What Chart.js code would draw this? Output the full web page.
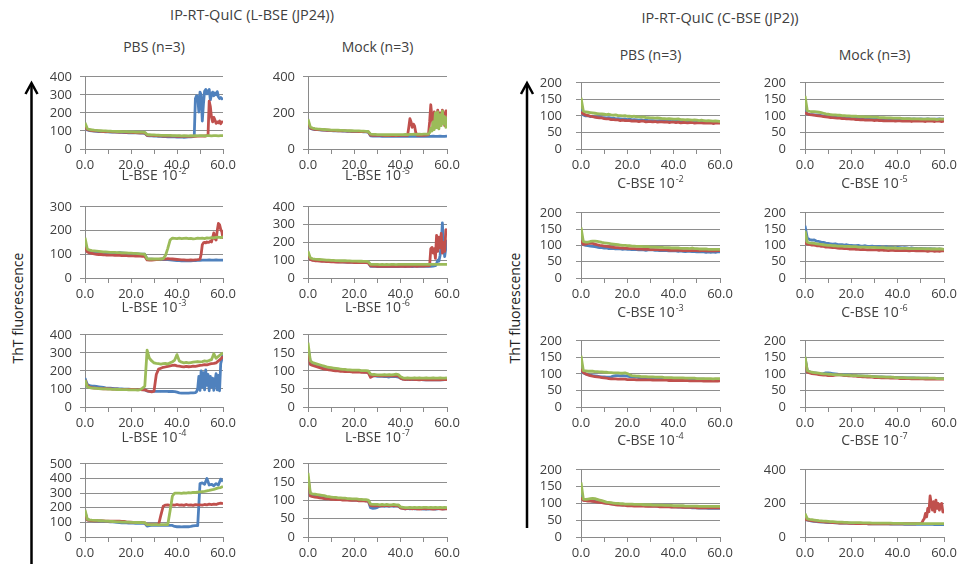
<!DOCTYPE html>
<html>
<head>
<meta charset="utf-8">
<script src="https://cdn.jsdelivr.net/npm/chart.js@4.4.1/dist/chart.umd.min.js"></script>
<style>
  html, body { margin: 0; padding: 0; background: #fff; }
  #page { position: relative; width: 960px; height: 566px; overflow: hidden;
          font-family: "Open Sans", sans-serif; color: #404040; }
  .group-title, .panel-title { position: absolute; font-size: 14px; white-space: nowrap;
          transform: translate(-50%, -50%); line-height: 1; }
  .group-title { font-size: 14.5px; }
  .panel-title .sup { display: inline-block; font-size: 9px; line-height: 1; position: relative; top: -6px; margin-left: 1px; }
  .ylab { position: absolute; font-size: 14px; white-space: nowrap; line-height: 1; color: #222;
          transform: translate(-50%, -50%) rotate(-90deg); }
  canvas { position: absolute; }
  svg { position: absolute; left: 0; top: 0; }
</style>
</head>
<body>
<div id="page">
  <div class="group-title" style="left:252px; top:15px;">IP-RT-QuIC (L-BSE (JP24))</div>
  <div class="group-title" style="left:720px; top:18px;">IP-RT-QuIC (C-BSE (JP2))</div>
  <div class="ylab" style="left:18px; top:308px;">ThT fluorescence</div>
  <div class="ylab" style="left:515px; top:308px;">ThT fluorescence</div>
  <svg width="960" height="566">
    <g stroke="#000" stroke-width="2.5" fill="none" stroke-linecap="butt">
      <line x1="31.5" y1="84" x2="31.5" y2="564"/>
      <polyline points="25.5,94 31.5,83 37.5,94"/>
      <line x1="527" y1="84" x2="527" y2="528"/>
      <polyline points="521,94 527,83 533,94"/>
    </g>
  </svg>
</div>
<script>
// Sampling times (hours) of the hourly readings
const sampleHours = [0,1,2,3,4,5,6,7,8,9,10,11,12,13,14,15,16,17,18,19,20,
  21,22,23,24,25,26,27,28,29,30,31,32,33,34,35,36,37,38,39,40,
  41,42,43,44,45,46,47,48,49,50,51,52,53,54,55,56,57,58,59,60];
// Dense readings (every half hour) recorded from a given time onwards
const burstStep = 0.5;

// ---------- L-BSE (JP24) ----------
const lPbsBlue = [118,106,102,100,99,98,97,97,96,95,95,
  94,94,93,93,92,92,91,91,90,90,
  90,89,89,88,88,87,74,73,73,72,
  71,70,70,69,68,67,67,68,67,66,
  66,67,65,66,67,67,69];
const lPbsBlueBurst = [72,280,295,290,205,315,300,155,250,320,330,305,320,330,272,300,315,295,310,300,318,290,280,285,278,282];
const lPbsRed = [122,108,104,102,101,100,99,98,97,97,96,
  96,95,95,94,94,93,93,92,92,92,
  91,91,90,90,89,89,76,75,75,74,
  74,73,73,72,72,72,71,71,71,70,
  71,70,70,71,70,70,71,70,71,71,
  71,72];
const lPbsRedBurst = [72,74,78,265,235,175,150,175,160,142,150,145,155,140,150,148];
const lPbsGreen = [145,113,108,106,104,103,102,101,100,100,99,
  99,98,98,97,97,96,96,96,95,95,
  95,94,94,93,93,92,80,79,78,78,
  77,77,76,76,75,75,75,74,74,74,
  74,73,74,73,73,74,73,74,73,74,
  74,73,74,74,73,74,74,73,74,74];

const lMockBlue = [140,114,110,108,107,106,105,104,103,103,102,
  101,101,100,100,99,99,98,98,97,97,
  97,96,96,95,95,94,73,72,72,71,
  71,70,71,70,70,71,70,70,71,70,
  70,71,70,70,71,70,70,71,70,70,
  71,70,70,71,70,70,71,70,70,71];
const lMockRed = [150,116,111,109,108,107,106,105,104,104,103,
  102,102,101,101,100,100,99,99,98,98,
  98,97,97,96,96,95,77,76,76,75,
  75,75,74,75,74,75,74,75,74,75,
  75,76,76];
const lMockRedBurst = [120,168,150,120,138,128,92,77,76,76,77,76,77,76,77,77,78,80,
  150,245,175,130,205,180,120,215,150,200,140,215,190,130,210,215];
const lMockGreen = [165,122,116,113,111,110,109,108,107,106,105,
  105,104,104,103,103,102,102,101,101,100,
  100,100,99,99,98,97,82,81,81,80,
  80,80,79,80,79,80,80,79,80,80,
  80,81,80,81,81,82,81,82,81,82,
  82,83];
const lMockGreenBurst = [90,115,100,150,108,200,118,205,112,190,130,210,140,180,120,178];

const l2Blue = [132,116,113,111,110,109,108,107,107,106,106,
  105,105,104,105,107,106,105,104,104,103,
  103,102,102,101,101,100,80,79,79,78,
  78,78,77,78,78,77,76,75,74,73,
  73,72,73,72,73,72,73,73,74,74,
  75,75,75,76,75,75,76,75,75,75];
const l2Red = [130,110,106,104,102,100,99,99,98,97,97,
  96,96,95,95,95,94,94,94,93,93,
  93,92,92,92,91,91,76,75,75,76,
  77,78,80,81,80,82,81,80,79,78,
  77,76,76,75,75,76,75,76,77,79];
const l2RedBurst = [100,140,148,150,148,152,150,151,155,152,170,190,165,160,200,230,225,205,195,165];
const l2Green = [170,122,117,115,114,113,112,111,110,110,109,
  108,108,108,107,107,106,106,106,105,105,
  104,104,103,102,101,100,81,80,80,80,
  80,81,80,82,95,125,160,168,167,166,
  168,166,167,168,166,167,165,166,168,167,
  168,166,169,168,170,169,171,172,170,174];

const l5Blue = [125,106,102,100,99,98,97,96,95,94,93,
  92,92,91,91,91,90,90,90,89,89,
  89,89,88,88,88,87,66,65,65,64,
  64,65,64,64,65,64,64,65,64,65,
  65,64,65,65,64,65,65,66,65,65,
  66,65,66,67,69];
const l5BlueBurst = [80,100,95,125,180,309,190,120,170,215];
const l5Red = [135,104,99,97,96,95,94,93,92,92,91,
  91,90,90,89,89,89,88,88,88,87,
  87,87,86,86,86,85,68,67,67,66,
  67,66,67,66,67,66,67,66,67,66,
  67,66,67,66,67,67,66,67,67,67,
  68,68];
const l5RedBurst = [70,165,172,140,165,110,240,150,230,170,250,140,200,150,270,275];
const l5Green = [150,113,108,106,105,104,103,102,101,100,99,
  99,98,98,97,97,97,96,96,95,95,
  95,94,94,93,93,92,77,76,76,76,
  75,76,75,76,75,76,76,75,76,76,
  76,76,77,76,76,77,76,77,77,77,
  76,77,76,77,77,76,76,77,76,76];

const l3Blue = [160,125,118,116,115,114,112,110,108,106,105,
  104,103,102,101,100,100,99,99,99,98,
  98,98,97,97,96,95,88,87,87,87,
  87,87,86,87,87,86,86,86,85,82,
  78,77,77,77,77,78,78,80];
const l3BlueBurst = [85,102,170,92,200,110,190,95,205,120,180,90,170,110,160,92,140,185,95,175,90,240,265,290];
const l3Red = [150,118,110,107,105,104,103,102,101,101,100,
  100,99,99,99,98,98,98,97,97,97,
  97,96,96,96,95,95,90,86,84,88,
  180,210,215,220,222,225,228,230,232,228,
  226,224,222,225,223,224,226,225,228,230,
  232,235,233,237,240,242,245,255,265,280];
const l3Green = [150,112,107,105,104,103,102,101,100,100,99,
  99,98,98,97,97,96,96,96,95,95,
  95,95,94,96,105,115,315,270,255,245,
  242,240,238,240,242,238,245,250,260,290,
  255,248,245,247,244,246,248,250,252,250,
  252,255,253,258,262,295,270,280,290,300];

const l6Blue = [165,125,120,118,116,114,112,110,108,107,106,
  105,104,103,102,101,100,100,99,99,99,
  98,98,98,97,97,96,87,86,86,85,
  85,85,84,84,83,85,84,84,83,80,
  77,77,76,77,76,76,77,76,76,75,
  76,75,76,75,76,75,76,75,76,76];
const l6Red = [160,118,115,113,111,109,107,105,104,103,102,
  101,100,100,99,99,98,98,98,97,97,
  97,97,96,96,96,95,82,86,87,87,
  86,87,86,86,87,86,86,87,86,80,
  77,76,77,76,77,76,76,75,76,76,
  75,76,75,76,75,76,75,76,76,76];
const l6Green = [178,128,123,121,119,117,115,113,111,110,109,
  108,107,106,105,104,104,103,103,102,102,
  102,102,101,101,101,100,91,90,90,89,
  89,89,90,89,90,89,90,91,90,84,
  81,80,81,80,80,81,80,81,80,80,
  81,80,80,81,80,80,81,80,80,81];

const l4Blue = [170,118,114,112,111,110,109,108,107,106,105,
  104,103,102,100,98,97,96,96,95,95,
  95,94,94,94,93,93,75,78,80,80,
  80,81,80,80,81,80,80,79,72,70,
  70,69,70,70,70,72,76,78,78,365,
  370,360,400,355,360,350,365,355,395,380];
const l4Red = [160,116,113,112,111,111,110,110,110,109,109,
  109,108,108,108,108,107,106,103,102,101,
  100,100,99,99,98,97,85,84,84,84,
  84,84,150,210,218,220,215,220,218,222,
  218,220,216,222,218,220,216,221,219,220,
  218,222,220,224,221,225,222,228,232,228];
const l4Green = [185,122,117,115,114,113,112,111,110,109,108,
  107,106,105,104,103,102,102,101,101,100,
  100,99,99,99,98,98,84,84,83,84,
  84,83,84,84,84,85,180,280,300,300,
  300,298,302,300,303,301,305,304,306,308,
  310,312,315,318,322,325,330,335,338,345];

const l7Blue = [155,115,114,113,112,111,110,109,108,107,106,
  105,105,104,104,103,103,102,102,101,101,
  101,100,100,100,99,99,80,78,79,81,
  84,85,84,85,84,85,84,85,84,80,
  78,77,78,77,78,77,77,78,77,76,
  77,76,77,77,76,77,78,77,77,78];
const l7Red = [165,112,110,109,108,107,106,105,104,104,103,
  103,102,102,102,101,101,101,100,100,100,
  100,99,99,99,98,98,86,85,86,85,
  86,85,86,86,85,86,86,85,86,79,
  78,77,78,78,77,78,77,76,77,78,
  77,78,77,76,77,78,77,76,77,77];
const l7Green = [175,120,118,117,116,115,114,113,111,110,109,
  108,108,107,107,106,106,105,105,104,104,
  104,103,103,102,102,101,90,89,89,89,
  88,89,88,89,88,88,89,88,88,82,
  81,80,80,81,80,81,80,81,80,81,
  81,80,81,80,81,80,81,80,81,80];

// ---------- C-BSE (JP2) ----------
const cPbsBlue = [120,103,100,101,98,99,97,96,97,95,95,
  94,95,93,93,91,92,91,90,91,89,
  90,88,89,88,87,88,86,87,86,86,
  86,85,85,86,84,85,84,85,83,84,
  84,83,84,82,83,82,83,81,82,82,
  81,82,80,81,80,81,79,80,80,80];
const cPbsRed = [112,106,103,101,99,98,96,95,94,94,92,
  91,91,89,89,88,88,86,87,86,86,
  86,84,85,84,83,84,84,82,83,83,
  82,83,81,82,82,81,82,80,81,81,
  80,81,79,80,80,79,80,80,78,79,
  79,79,78,79,78,79,77,78,78,78];
const cPbsGreen = [155,115,112,111,110,109,108,107,106,106,105,
  104,105,103,102,103,101,101,100,101,99,
  99,98,99,97,97,96,97,95,95,94,
  94,93,94,93,92,92,91,92,91,90,
  90,91,89,89,88,89,88,87,88,87,
  86,87,86,85,86,85,84,85,84,83];

const cMockBlue = [115,106,104,104,103,103,102,101,100,99,98,
  98,97,97,96,96,96,95,95,95,94,
  94,94,93,93,93,93,93,92,92,92,
  92,92,92,91,92,91,91,92,91,91,
  91,91,90,91,91,90,91,90,90,91,
  90,90,91,90,90,90,90,91,90,90];
const cMockRed = [110,106,104,103,102,101,100,99,98,97,96,
  95,95,94,93,93,92,92,91,91,90,
  90,89,89,88,89,87,88,87,87,86,
  87,86,86,85,86,85,85,86,84,85,
  85,84,85,84,85,83,85,84,84,85,
  84,83,85,84,84,83,85,84,83,84];
const cMockGreen = [160,116,114,113,113,112,111,110,108,106,105,
  104,103,103,102,102,101,101,100,100,99,
  99,99,98,98,98,97,97,97,96,96,
  96,95,95,95,94,94,94,93,93,93,
  93,92,92,92,92,91,91,91,91,90,
  90,90,91,90,90,90,89,90,90,90];

const c2Blue = [112,102,100,99,98,97,96,95,93,93,92,
  92,90,91,90,89,90,89,88,89,88,
  88,87,88,87,86,87,86,85,86,86,
  86,85,85,84,85,84,84,83,84,83,
  83,82,83,82,81,82,82,81,81,80,
  81,80,80,79,80,79,80,79,80,80];
const c2Red = [115,103,104,106,107,106,104,102,100,99,98,
  97,96,95,94,93,93,92,92,91,91,
  90,90,90,89,89,89,88,88,88,87,
  87,87,87,86,86,86,86,85,85,85,
  85,85,85,84,84,84,84,84,84,84,
  83,84,84,83,84,83,84,83,84,84];
const c2Green = [155,112,110,110,112,113,113,112,111,109,108,
  107,106,105,104,103,102,101,100,100,99,
  99,98,98,97,97,97,96,96,96,95,
  95,95,94,94,94,93,93,93,92,92,
  92,92,91,91,91,91,90,92,90,90,
  89,89,89,89,88,88,88,88,88,88];

const c5Blue = [160,122,118,116,117,113,112,110,109,107,106,
  105,104,105,103,102,102,101,102,100,100,
  99,99,100,98,98,99,97,97,98,96,
  96,97,95,95,96,94,95,94,93,94,
  93,92,93,92,91,92,91,91,90,91,
  90,90,89,90,89,89,88,89,88,88];
const c5Red = [108,104,103,101,101,99,99,97,97,95,95,
  94,93,93,92,91,91,90,90,89,89,
  89,88,88,87,88,87,86,87,86,86,
  86,85,86,85,85,84,85,85,84,85,
  84,84,85,84,83,84,84,83,83,84,
  83,83,82,83,83,82,83,82,83,83];
const c5Green = [145,110,108,107,106,105,104,103,102,101,100,
  100,99,99,98,98,98,97,97,97,96,
  96,96,95,95,95,95,94,94,94,94,
  93,93,93,93,92,92,92,92,92,91,
  91,91,91,91,90,90,90,90,90,90,
  90,89,90,89,89,89,89,89,89,88];

const c3Blue = [108,103,100,98,96,95,94,93,92,91,91,
  90,90,91,93,95,95,94,95,94,93,
  92,91,90,90,89,89,88,88,88,87,
  87,87,87,86,86,86,86,86,85,85,
  85,85,85,85,85,84,84,84,84,84,
  84,84,84,83,83,83,83,83,83,83];
const c3Red = [115,104,100,97,95,93,92,91,90,89,88,
  87,86,85,85,85,84,84,84,84,83,
  83,83,83,82,82,82,82,82,82,82,
  81,81,81,81,81,81,81,80,80,80,
  80,80,80,80,80,80,79,79,79,79,
  79,79,78,79,78,78,79,78,78,79];
const c3Green = [155,110,109,108,108,108,107,107,106,106,105,
  105,104,104,103,103,103,102,102,103,101,
  97,95,94,93,93,92,92,92,91,91,
  91,90,90,90,90,89,89,89,89,88,
  88,88,88,88,87,87,87,87,87,86,
  86,86,86,86,86,86,85,86,86,86];

const c6Blue = [150,108,106,104,103,102,101,100,101,103,103,
  102,101,100,99,98,98,97,97,96,96,
  95,95,94,94,93,93,93,92,92,92,
  91,91,91,90,90,90,90,89,89,89,
  89,89,88,88,88,88,88,87,87,87,
  87,87,87,86,86,86,86,86,86,86];
const c6Red = [145,106,103,101,100,99,98,97,96,96,95,
  95,95,96,97,97,96,95,95,94,94,
  93,93,92,92,91,91,90,90,90,89,
  89,89,88,88,88,88,87,87,87,87,
  86,86,86,86,86,85,85,85,85,85,
  85,84,85,84,84,84,84,84,84,84];
const c6Green = [152,110,107,105,104,103,102,101,100,100,99,
  99,98,98,97,97,97,96,96,96,95,
  95,95,94,94,94,93,93,93,92,92,
  92,91,91,91,90,90,90,90,89,89,
  89,89,89,88,88,88,88,88,88,87,
  87,87,87,87,87,87,86,86,86,86];

const c4Blue = [125,110,109,108,108,107,106,105,104,103,102,
  101,100,99,98,97,97,96,96,96,95,
  95,95,95,95,94,94,94,94,93,93,
  93,93,92,92,92,91,91,91,90,90,
  90,89,89,89,88,88,88,87,87,87,
  86,86,86,86,85,85,85,85,85,85];
const c4Red = [118,109,108,107,107,106,105,104,103,102,101,
  100,99,98,97,96,95,95,94,94,93,
  93,93,92,92,92,92,92,91,91,91,
  91,91,91,90,90,90,90,90,89,89,
  89,89,89,88,88,88,88,88,88,87,
  87,87,87,87,87,87,87,87,87,87];
const c4Green = [162,113,112,113,114,115,114,112,110,108,106,
  104,103,102,101,100,100,99,99,98,98,
  98,98,97,97,97,97,96,96,96,96,
  95,95,95,95,95,94,94,94,94,93,
  93,93,93,93,92,92,92,92,92,92,
  91,91,91,91,91,91,91,91,91,91];

const c7Blue = [112,100,97,95,93,92,90,89,88,87,86,
  85,85,84,84,83,83,82,82,82,81,
  81,81,80,80,80,80,79,79,79,79,
  79,78,78,78,78,78,77,77,77,77,
  77,77,76,76,76,76,76,76,75,75,
  75,75,75,75,75,74,75,74,74,74];
const c7Red = [108,102,99,97,95,94,92,91,90,89,88,
  87,86,85,84,83,83,82,82,81,81,
  81,80,80,80,80,80,79,79,79,79,
  79,79,79,79,79,79,79,79,79,79,
  79,79,79,79,79,79,79,79,80];
const c7RedBurst = [80,82,85,100,110,140,120,170,150,245,200,160,210,150,220,170,200,160,190,200,150,145];
const c7Green = [140,108,105,103,101,99,97,96,95,94,93,
  92,91,90,89,88,88,87,87,86,86,
  86,85,85,85,84,84,84,84,83,83,
  83,83,82,82,82,82,82,81,81,81,
  81,81,80,80,80,80,80,80,80,80,
  80,80,80,80,80,79,80,79,80,80];

// Panel layout: column and row within each group, titles and y ranges
const panels = [
  { group: 'L', col: 0, row: 0, title: 'PBS (n=3)', sup: '', yMax: 400, yStep: 100,
    blue: { hourly: lPbsBlue, burstFrom: 47.5, burst: lPbsBlueBurst },
    red: { hourly: lPbsRed, burstFrom: 52.5, burst: lPbsRedBurst },
    green: { hourly: lPbsGreen } },
  { group: 'L', col: 1, row: 0, title: 'Mock (n=3)', sup: '', yMax: 400, yStep: 200,
    blue: { hourly: lMockBlue },
    red: { hourly: lMockRed, burstFrom: 43.5, burst: lMockRedBurst },
    green: { hourly: lMockGreen, burstFrom: 52.5, burst: lMockGreenBurst } },
  { group: 'L', col: 0, row: 1, title: 'L-BSE 10', sup: '-2', yMax: 300, yStep: 100,
    blue: { hourly: l2Blue },
    red: { hourly: l2Red, burstFrom: 50.5, burst: l2RedBurst },
    green: { hourly: l2Green } },
  { group: 'L', col: 1, row: 1, title: 'L-BSE 10', sup: '-5', yMax: 400, yStep: 100,
    blue: { hourly: l5Blue, burstFrom: 55.5, burst: l5BlueBurst },
    red: { hourly: l5Red, burstFrom: 52.5, burst: l5RedBurst },
    green: { hourly: l5Green } },
  { group: 'L', col: 0, row: 2, title: 'L-BSE 10', sup: '-3', yMax: 400, yStep: 100,
    blue: { hourly: l3Blue, burstFrom: 48.5, burst: l3BlueBurst },
    red: { hourly: l3Red },
    green: { hourly: l3Green } },
  { group: 'L', col: 1, row: 2, title: 'L-BSE 10', sup: '-6', yMax: 200, yStep: 50,
    blue: { hourly: l6Blue }, red: { hourly: l6Red }, green: { hourly: l6Green } },
  { group: 'L', col: 0, row: 3, title: 'L-BSE 10', sup: '-4', yMax: 500, yStep: 100,
    blue: { hourly: l4Blue }, red: { hourly: l4Red }, green: { hourly: l4Green } },
  { group: 'L', col: 1, row: 3, title: 'L-BSE 10', sup: '-7', yMax: 200, yStep: 50,
    blue: { hourly: l7Blue }, red: { hourly: l7Red }, green: { hourly: l7Green } },

  { group: 'R', col: 0, row: 0, title: 'PBS (n=3)', sup: '', yMax: 200, yStep: 50,
    blue: { hourly: cPbsBlue }, red: { hourly: cPbsRed }, green: { hourly: cPbsGreen } },
  { group: 'R', col: 1, row: 0, title: 'Mock (n=3)', sup: '', yMax: 200, yStep: 50,
    blue: { hourly: cMockBlue }, red: { hourly: cMockRed }, green: { hourly: cMockGreen } },
  { group: 'R', col: 0, row: 1, title: 'C-BSE 10', sup: '-2', yMax: 200, yStep: 50,
    blue: { hourly: c2Blue }, red: { hourly: c2Red }, green: { hourly: c2Green } },
  { group: 'R', col: 1, row: 1, title: 'C-BSE 10', sup: '-5', yMax: 200, yStep: 50,
    blue: { hourly: c5Blue }, red: { hourly: c5Red }, green: { hourly: c5Green } },
  { group: 'R', col: 0, row: 2, title: 'C-BSE 10', sup: '-3', yMax: 200, yStep: 50,
    blue: { hourly: c3Blue }, red: { hourly: c3Red }, green: { hourly: c3Green } },
  { group: 'R', col: 1, row: 2, title: 'C-BSE 10', sup: '-6', yMax: 200, yStep: 50,
    blue: { hourly: c6Blue }, red: { hourly: c6Red }, green: { hourly: c6Green } },
  { group: 'R', col: 0, row: 3, title: 'C-BSE 10', sup: '-4', yMax: 200, yStep: 50,
    blue: { hourly: c4Blue }, red: { hourly: c4Red }, green: { hourly: c4Green } },
  { group: 'R', col: 1, row: 3, title: 'C-BSE 10', sup: '-7', yMax: 400, yStep: 200,
    blue: { hourly: c7Blue },
    red: { hourly: c7Red, burstFrom: 49.5, burst: c7RedBurst },
    green: { hourly: c7Green } }
];

const GEOM = {
  L: { cols: [[85, 223], [308, 447]], titleY: [47, 175, 307, 437], labelPad: 8 },
  R: { cols: [[581, 720], [805, 944]], titleY: [55, 183, 312, 440], labelPad: 14 }
};
const ROWS = [[71, 149], [201, 278], [329, 407], [458, 537]];
const YW = 44, PT = 10, PR = 24, XH = 28;

const FONT = '"Open Sans", sans-serif';
const TEXT = '#404040';
const GRID = '#8e8e8e';
const AXIS = '#8a8a8a';
const COLORS = { blue: '#4F81BD', red: '#C0504D', green: '#9BBB59' };
const DRAW_ORDER = { green: 0, red: 1, blue: 2 };

function seriesPoints(s) {
  const pts = [];
  const from = s.burst ? s.burstFrom : Infinity;
  s.hourly.forEach((v, i) => {
    const t = sampleHours[i];
    if (t < from) pts.push({ x: t, y: v });
  });
  if (s.burst) s.burst.forEach((v, i) => pts.push({ x: s.burstFrom + i * burstStep, y: v }));
  return pts;
}

const page = document.getElementById('page');

panels.forEach(p => {
  const g = GEOM[p.group];
  const [left, right] = g.cols[p.col];
  const [top, bottom] = ROWS[p.row];

  const title = document.createElement('div');
  title.className = 'panel-title';
  title.style.left = ((left + right) / 2) + 'px';
  title.style.top = g.titleY[p.row] + 'px';
  title.innerHTML = p.title + (p.sup ? '<span class="sup">' + p.sup + '</span>' : '');
  page.appendChild(title);

  const canvas = document.createElement('canvas');
  canvas.width = YW + (right - left) + PR;
  canvas.height = PT + (bottom - top) + XH;
  canvas.style.left = (left - YW) + 'px';
  canvas.style.top = (top - PT) + 'px';
  page.appendChild(canvas);

  const datasets = ['blue', 'red', 'green'].map(c => ({
    data: seriesPoints(p[c]),
    borderColor: COLORS[c],
    backgroundColor: COLORS[c],
    borderWidth: 2.8,
    borderJoinStyle: 'round',
    pointRadius: 0,
    tension: 0,
    fill: false,
    order: DRAW_ORDER[c]
  }));

  new Chart(canvas, {
    type: 'line',
    data: { datasets },
    options: {
      responsive: false,
      animation: false,
      events: [],
      layout: { padding: { left: 0, right: PR, top: PT, bottom: 0 } },
      plugins: { legend: { display: false }, tooltip: { enabled: false }, title: { display: false } },
      scales: {
        x: {
          type: 'linear', min: 0, max: 60,
          afterFit: s => { s.height = XH; },
          ticks: {
            stepSize: 10, autoSkip: false, maxRotation: 0, minRotation: 0, padding: 3,
            color: TEXT, font: { family: FONT, size: 13 },
            callback: v => (v % 20 === 0 ? v.toFixed(1) : '')
          },
          grid: { drawOnChartArea: false, drawTicks: true, tickLength: 5, color: AXIS },
          border: { color: AXIS, width: 1 }
        },
        y: {
          min: 0, max: p.yMax,
          afterFit: s => { s.width = YW; },
          ticks: {
            stepSize: p.yStep, autoSkip: false, padding: g.labelPad, color: TEXT,
            font: { family: FONT, size: 13 },
            callback: v => String(v)
          },
          grid: { color: GRID, tickLength: 5, drawTicks: true },
          border: { color: AXIS, width: 1 }
        }
      }
    }
  });
});
</script>
</body>
</html>
